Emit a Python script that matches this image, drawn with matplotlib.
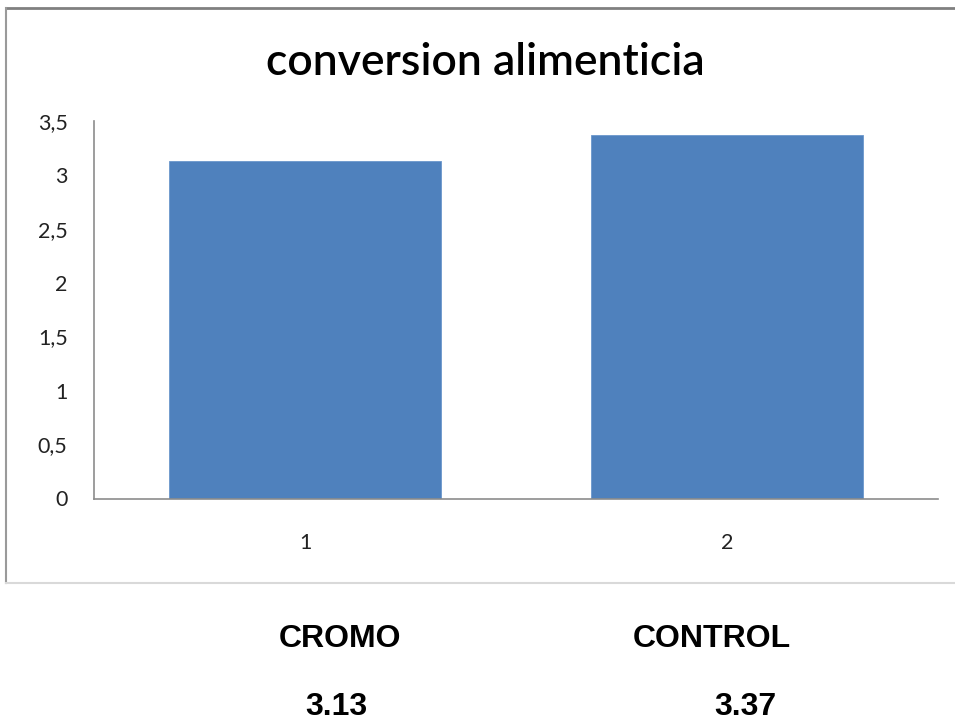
import matplotlib.pyplot as plt
from matplotlib.lines import Line2D

# data
groups = ["1", "2"]
names = ["CROMO", "CONTROL"]
conversion = [3.13, 3.37]
yticks = [0, 0.5, 1, 1.5, 2, 2.5, 3, 3.5]
ytick_labels = ["0", "0,5", "1", "1,5", "2", "2,5", "3", "3,5"]

W, H = 955, 724
fig = plt.figure(figsize=(W / 100, H / 100), dpi=100)
fig.patch.set_facecolor("white")

ax = fig.add_axes([94 / W, (H - 498.5) / H, (938 - 94) / W, (498.5 - 120.7) / H])
x = [1, 2]
ax.bar(x, conversion, width=0.645, color="#4F81BD", edgecolor="#6b97cc", linewidth=0.6, zorder=2)
ax.set_xlim(0.5, 2.5)
ax.set_ylim(0, 3.5)
ax.set_yticks(yticks, ytick_labels)
ax.set_xticks(x, groups)
for s in ["top", "right"]:
    ax.spines[s].set_visible(False)
for s in ["left", "bottom"]:
    ax.spines[s].set_color("#8c8c8c")
    ax.spines[s].set_linewidth(1.2)
ax.tick_params(axis="y", length=0, pad=19, labelsize=15.5, labelcolor="#222222")
ax.tick_params(axis="x", length=0, pad=25, labelsize=15.5, labelcolor="#222222")
for lab in ax.get_xticklabels() + ax.get_yticklabels():
    lab.set_family("Lato")

# title
fig.text(485 / W, 1 - 75 / H, "conversion alimenticia", ha="center", va="baseline",
         fontsize=32, fontweight="semibold", family="Lato")

# chart frame
fig.add_artist(Line2D([6 / W, 1], [1 - 8 / H, 1 - 8 / H], color="#808080", lw=2))
fig.add_artist(Line2D([6 / W, 6 / W], [1 - 8 / H, 1 - 583 / H], color="#9a9a9a", lw=1.5))
fig.add_artist(Line2D([6 / W, 1], [1 - 583 / H, 1 - 583 / H], color="#d9d9d9", lw=1.5))

# names and values under the chart
name_x = [340, 712]
value_x = [336, 745]
for nx, vx, n, v in zip(name_x, value_x, names, conversion):
    fig.text(nx / W, 1 - 647 / H, n, ha="center", va="baseline", fontsize=23,
             fontweight="bold", family="Liberation Sans")
    fig.text(vx / W, 1 - 715 / H, f"{v:.2f}", ha="center", va="baseline", fontsize=23,
             fontweight="bold", family="Liberation Sans")

fig.savefig("out.png", dpi=100)
